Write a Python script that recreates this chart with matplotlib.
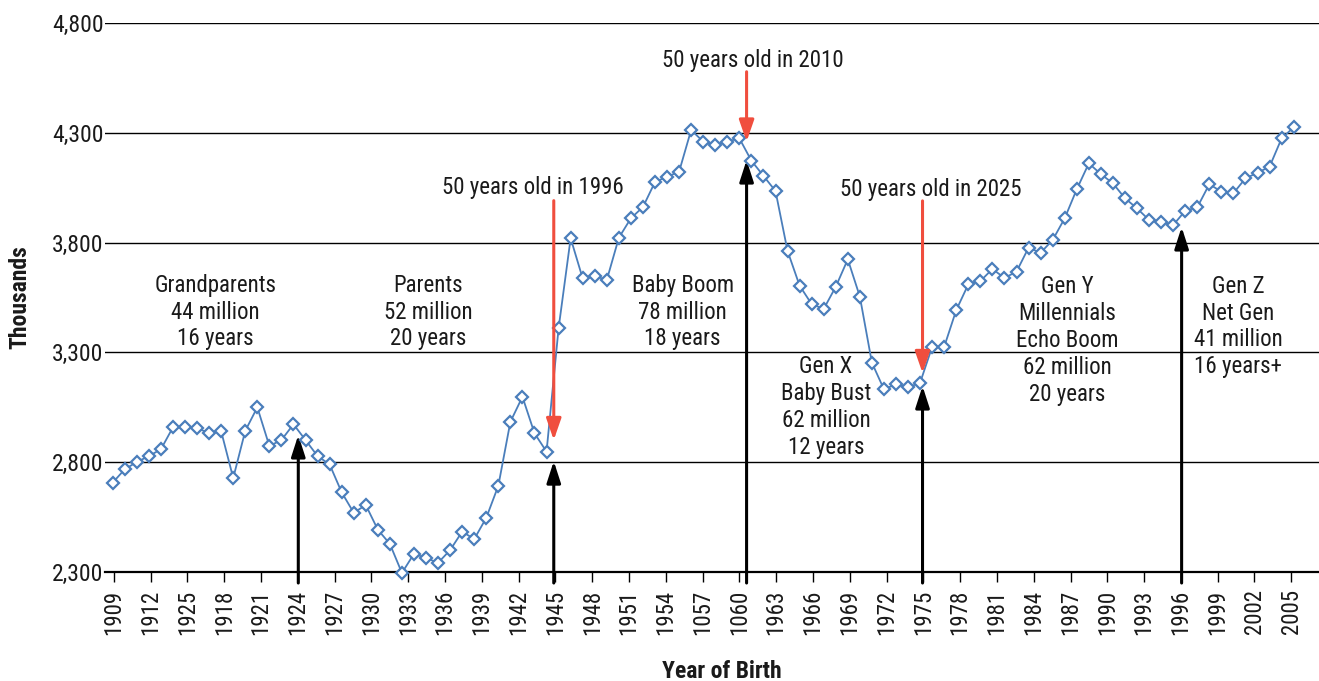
"""
US births by year of birth, with generation bands and "50 years old in ..." markers.
Produces: out.png
"""

import matplotlib
matplotlib.use("Agg")
import matplotlib.pyplot as plt
import numpy as np

plt.rcParams["font.family"] = ["Roboto Condensed", "Archivo Narrow", "Liberation Sans", "DejaVu Sans"]

# births in thousands (one point per year of birth)
years = list(range(1909, 2008))
births = [
    2707, 2768, 2801, 2828, 2859, 2959, 2959, 2954, 2934, 2941,   # 1909-1918
    2728, 2943, 3050, 2874, 2901, 2973, 2901, 2828, 2790, 2663,   # 1919-1928
    2570, 2605, 2493, 2428, 2296, 2383, 2364, 2342, 2400, 2484,   # 1929-1938
    2450, 2547, 2693, 2984, 3098, 2932, 2848, 3410, 3820, 3637,   # 1939-1948
    3648, 3630, 3822, 3911, 3962, 4076, 4100, 4123, 4313, 4260,   # 1949-1958
    4245, 4260, 4275, 4173, 4104, 4035, 3762, 3604, 3520, 3498,   # 1959-1968
    3599, 3724, 3554, 3253, 3132, 3155, 3141, 3162, 3326, 3326,   # 1969-1978
    3493, 3610, 3625, 3680, 3639, 3668, 3777, 3754, 3812, 3911,   # 1979-1988
    4043, 4161, 4112, 4070, 4002, 3956, 3903, 3893, 3880, 3945,   # 1989-1998
    3961, 4066, 4032, 4025, 4093, 4118, 4146, 4275, 4325,         # 1999-2007
]

# category labels exactly as printed on the original (typos included)
tick_labels = ["1909", "1912", "1925", "1918", "1921", "1924", "1927", "1930",
               "1933", "1936", "1939", "1942", "1945", "1948", "1951", "1954",
               "1057", "1060", "1963", "1966", "1969", "1972", "1975", "1978",
               "1981", "1984", "1987", "1990", "1993", "1996", "1999", "2002",
               "2005"]
y_ticks = [2300, 2800, 3300, 3800, 4300, 4800]

# generation boxes: (x, y, text)
gen_x = [1917.5, 1935.2, 1956.3, 1968.2, 1988.2, 2002.4]
gen_y = [3484, 3484, 3484, 3053, 3353, 3418]
gen_text = ["Grandparents\n44 million\n16 years",
            "Parents\n52 million\n20 years",
            "Baby Boom\n78 million\n18 years",
            "Gen X\nBaby Bust\n62 million\n12 years",
            "Gen Y\nMillennials\nEcho Boom\n62 million\n20 years",
            "Gen Z\nNet Gen\n41 million\n16 years+"]

# black arrows up from the axis: x, tip
up_x = [1924.4, 1945.6, 1961.6, 1976.2, 1997.7]
up_tip = [2924, 2805, 4176, 3147, 3871]

# red "50 years old" arrows: x, tail, tip, label position
red_x = [1945.6, 1961.6, 1976.2]
red_tail = [3991, 4578, 3990]
red_tip = [2901, 4260, 3206]
red_lbl_x = [1943.9, 1962.1, 1976.9]
red_lbl_y = [4049, 4629, 4040]
red_lbl = ["50 years old in 1996", "50 years old in 2010", "50 years old in 2025"]

BLUE = "#4a7ebb"
RED = "#f04e3e"
INK = "#1a1a1a"


def main():
    fig = plt.figure(figsize=(13.19, 6.81), dpi=100)
    ax = fig.add_axes([0.0796, 0.16, 0.9204, 0.8062])

    for v in y_ticks[1:]:
        ax.axhline(v, color="black", lw=1.0, zorder=1)

    ax.plot(years, births, color=BLUE, lw=1.3, marker="D", ms=5.8,
            mfc="white", mec=BLUE, mew=1.6, zorder=4, clip_on=False)

    for x, tip in zip(up_x, up_tip):
        ax.annotate("", xy=(x, tip), xytext=(x, 2250),
                    arrowprops=dict(arrowstyle="-|>,head_length=1.3,head_width=0.42",
                                    color="black", lw=2.2, shrinkA=0, shrinkB=0,
                                    mutation_scale=10), zorder=3)
    for x, tail, tip in zip(red_x, red_tail, red_tip):
        ax.annotate("", xy=(x, tip), xytext=(x, tail),
                    arrowprops=dict(arrowstyle="-|>,head_length=1.3,head_width=0.45",
                                    color=RED, lw=2.2, shrinkA=0, shrinkB=0,
                                    mutation_scale=10), zorder=5)
    for x, y, s in zip(red_lbl_x, red_lbl_y, red_lbl):
        ax.text(x, y, s, ha="center", va="center", fontsize=16.5, color=INK)

    for x, y, s in zip(gen_x, gen_y, gen_text):
        ax.text(x, y, s, ha="center", va="center", fontsize=16.5, color=INK,
                linespacing=1.22)

    ax.set_xlim(1908.36, 2009.1)
    ax.set_ylim(2300, 4800)
    ax.set_xticks(np.linspace(1909.1, 2006.8, len(tick_labels)))
    ax.set_xticklabels(tick_labels, rotation=90, fontsize=16.5, color=INK)
    ax.set_yticks(y_ticks)
    ax.set_yticklabels([f"{v:,}" for v in y_ticks], fontsize=17, color=INK)
    ax.tick_params(axis="x", length=7.5, width=1.0, color="black", pad=5)
    ax.tick_params(axis="y", length=0, pad=1)

    for side in ("left", "right", "top"):
        ax.spines[side].set_visible(False)
    ax.spines["bottom"].set_linewidth(1.6)

    ax.set_ylabel("Thousands", fontsize=17, fontweight="bold", color=INK)
    ax.set_xlabel("Year of Birth", fontsize=17, fontweight="bold", color=INK)
    ax.yaxis.set_label_coords(-0.061, 0.5)
    ax.xaxis.set_label_coords(0.508, -0.16)

    fig.savefig("out.png", dpi=100)


if __name__ == "__main__":
    main()
